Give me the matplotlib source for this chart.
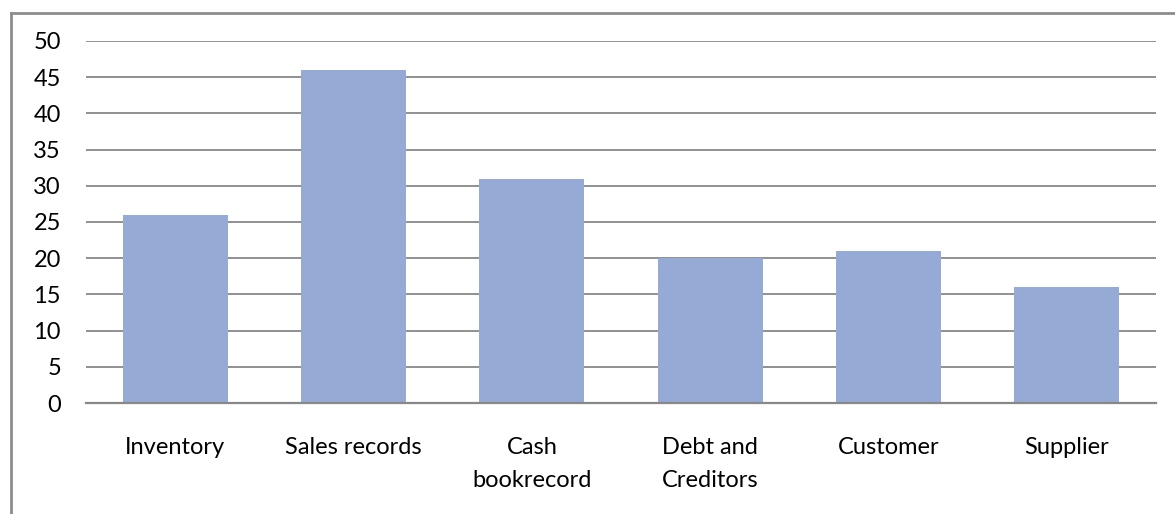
import matplotlib
matplotlib.use("Agg")
import matplotlib.pyplot as plt
from matplotlib.lines import Line2D

categories = ["Inventory", "Sales records", "Cash\nbookrecord", "Debt and\nCreditors", "Customer", "Supplier"]
values = [26, 46, 31, 20, 21, 16]
yticks = [0, 5, 10, 15, 20, 25, 30, 35, 40, 45, 50]

W, H = 1175, 514
plt.rcParams['font.family'] = ['Lato', 'DejaVu Sans']

fig = plt.figure(figsize=(W / 100, H / 100), dpi=100)
ax = fig.add_axes([86 / W, 1 - 403 / H, (1156 - 86) / W, (403 - 41) / H])

x = list(range(len(categories)))
ax.bar(x, values, width=0.59, color='#95abd5', zorder=3)

ax.set_xlim(-0.5, len(categories) - 0.5)
ax.set_ylim(0, 50)
ax.set_yticks(yticks)
ax.set_xticks(x)
ax.set_xticklabels(categories, fontsize=17, linespacing=1.68, va='top')
ax.tick_params(axis='y', labelsize=17, length=0, pad=18)
ax.tick_params(axis='x', length=0, pad=24.5)
for t in ax.get_yticklabels():
    t.set_horizontalalignment('right')

ax.grid(axis='y', color='#888888', linewidth=1.3, zorder=0)
for s in ['left', 'right', 'top']:
    ax.spines[s].set_visible(False)
ax.spines['bottom'].set_color('#888888')
ax.spines['bottom'].set_linewidth(1.6)
ax.spines['bottom'].set_zorder(4)

# outer chart frame (left and top edges visible)
fig.add_artist(Line2D([10.5 / W, 10.5 / W], [0, 1 - 13 / H], color='#8c8c8c', linewidth=2, transform=fig.transFigure))
fig.add_artist(Line2D([10.5 / W, 1], [1 - 13 / H, 1 - 13 / H], color='#8c8c8c', linewidth=2, transform=fig.transFigure))

fig.savefig("out.png", dpi=100)
